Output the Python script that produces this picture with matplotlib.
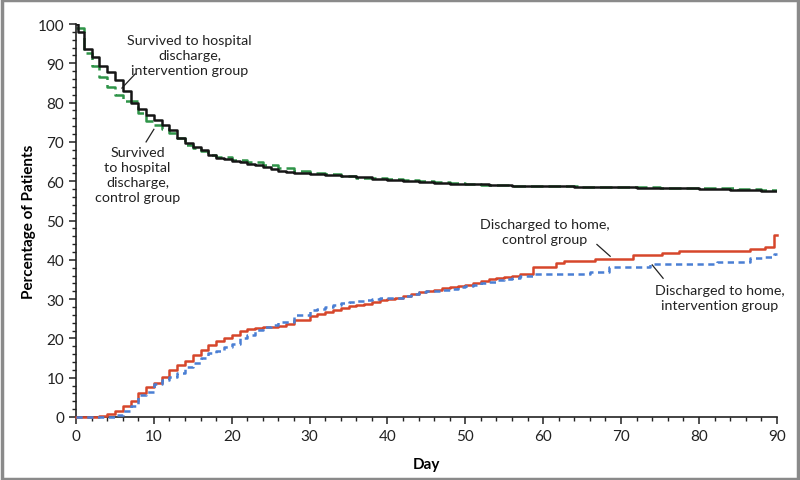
import matplotlib
matplotlib.use("Agg")
from matplotlib import pyplot as plt
from matplotlib.patches import Rectangle
from matplotlib.ticker import MultipleLocator

# survived to hospital discharge, intervention group
surv_int_day = [0, 0.3, 1, 2, 3, 4, 5, 6, 7, 8, 9, 10, 11, 12, 13, 14, 15, 16, 17, 18, 19, 20,
                21, 22, 23, 24, 25, 26, 27, 28, 30, 32, 34, 36, 38, 40, 42, 44, 46, 48, 50,
                53, 56, 60, 64, 68, 72, 76, 80, 84, 88, 90]
surv_int_pct = [100, 98, 93.6, 91.7, 89.2, 87.7, 85.8, 83.0, 79.8, 78.5, 76.8, 75.6, 74.3, 73.0,
                70.9, 69.6, 68.8, 67.9, 66.7, 66.0, 65.6, 65.2, 64.8, 64.4, 64.0, 63.5, 63.1,
                62.7, 62.4, 62.1, 61.9, 61.6, 61.3, 61.0, 60.6, 60.3, 60.0, 59.7, 59.5, 59.3,
                59.2, 59.0, 58.9, 58.8, 58.6, 58.4, 58.3, 58.2, 58.0, 57.8, 57.6, 57.5]

# survived to hospital discharge, control group
surv_ctl_day = [0, 1, 2, 3, 4, 5, 6, 8, 9, 10, 11, 12, 13, 14, 15, 16, 17, 18, 20, 22, 24, 26,
                28, 30, 32, 34, 36, 38, 40, 42, 44, 46, 48, 50, 52, 56, 60, 65, 70, 75, 80,
                85, 88, 90]
surv_ctl_pct = [99, 92.5, 89.2, 86.4, 84.0, 82.0, 80.3, 77.3, 75.2, 74.3, 73.4, 72.2, 70.9,
                69.2, 68.4, 67.6, 66.7, 66.2, 65.4, 64.8, 64.2, 63.3, 62.7, 62.0, 61.8, 61.3,
                60.9, 60.7, 60.5, 60.2, 60.0, 59.8, 59.6, 59.2, 59.0, 58.9, 58.7, 58.6, 58.5,
                58.3, 58.2, 58.0, 57.8, 57.6]

# discharged to home, control group
home_ctl_day = [0, 3, 4, 5, 6, 7, 8, 9, 10, 11, 12, 13, 14, 15, 16, 17, 18, 19, 20, 21, 22, 23,
                24, 26, 27, 28, 30, 31, 32, 33, 34, 35, 36, 37, 38, 39, 40, 41, 42, 43, 44,
                45, 46, 47, 48, 49, 50, 51, 52, 53, 54, 55, 56, 57, 58.7, 61.7, 62.7,
                66.6, 71.5, 75.2, 77.5, 86.5, 88.5, 89.6, 90]
home_ctl_pct = [0, 0.3, 0.7, 1.5, 2.8, 4.1, 6.0, 7.7, 8.7, 10.3, 12.0, 13.2, 14.2, 15.8, 17.0,
                18.3, 19.3, 20.0, 20.9, 22.0, 22.4, 22.7, 23.0, 23.2, 23.7, 24.6, 25.7, 26.2,
                26.8, 27.3, 27.8, 28.2, 28.5, 28.8, 29.3, 29.8, 30.1, 30.4, 30.8, 31.3, 31.7,
                32.0, 32.3, 32.7, 33.1, 33.4, 33.7, 34.1, 34.5, 35.0, 35.4, 35.7, 36.0, 36.3,
                38.1, 39.3, 39.8, 40.3, 41.2, 41.8, 42.3, 42.7, 43.3, 46.3, 46.3]

# discharged to home, intervention group
home_int_day = [0, 5, 6, 7, 8, 9, 10, 11, 12, 13, 14, 15, 16, 17, 18, 19, 20, 21, 22, 23, 24,
                25, 26, 28, 30, 31, 32, 33, 34, 35, 36, 37, 38, 39, 40, 42, 43, 44, 45, 47,
                48, 49, 50, 51, 52, 53, 54, 55, 56, 57, 58.7, 62, 66, 68.5, 73.7,
                82.3, 86.5, 88.5, 89.6, 90]
home_int_pct = [0, 0.5, 1.5, 2.9, 5.6, 6.4, 8.4, 9.4, 10.3, 11.3, 12.6, 13.7, 14.9, 16.2, 16.8,
                17.7, 18.7, 20.0, 20.9, 22.1, 22.8, 23.4, 24.2, 25.9, 27.2, 27.5, 28.0, 28.5,
                28.9, 29.3, 29.6, 29.8, 30.0, 30.2, 30.4, 30.8, 31.3, 31.7, 32.0, 32.3, 32.6,
                33.0, 33.3, 33.6, 34.0, 34.4, 34.8, 35.1, 35.4, 35.8, 36.3, 36.5, 36.8, 38.2,
                38.9, 39.5, 40.4, 40.6, 41.6, 41.6]

plt.rcParams["font.family"] = ["Lato", "DejaVu Sans"]

fig = plt.figure(figsize=(8, 4.81), dpi=100)
ax = fig.add_axes([0.095, 0.131, 0.876, 0.817])

ax.step(surv_ctl_day, surv_ctl_pct, where="post", color="#2e9448", lw=1.8,
        dashes=(5, 2))
ax.step(surv_int_day, surv_int_pct, where="post", color="#151515", lw=1.8)
ax.step(home_int_day, home_int_pct, where="post", color="#4a7fd4", lw=1.8,
        dashes=(2.5, 1.8), clip_on=False, zorder=4)
ax.step(home_ctl_day, home_ctl_pct, where="post", color="#d6462b", lw=1.8,
        clip_on=False, zorder=3)

ax.set_xlim(0, 90)
ax.set_ylim(0, 100)
ax.xaxis.set_major_locator(MultipleLocator(10))
ax.xaxis.set_minor_locator(MultipleLocator(2))
ax.yaxis.set_major_locator(MultipleLocator(10))
ax.yaxis.set_minor_locator(MultipleLocator(2))
ax.tick_params(which="major", direction="out", length=5, width=1.1, labelsize=11,
               colors="#222222")
ax.tick_params(which="minor", direction="out", length=3, width=1.0, colors="#222222")
for side in ["top", "right"]:
    ax.spines[side].set_visible(False)
for side in ["left", "bottom"]:
    ax.spines[side].set_linewidth(1.2)
    ax.spines[side].set_color("#222222")

ax.set_xlabel("Day", fontsize=11, fontweight="bold", labelpad=10)
ax.set_ylabel("Percentage of Patients", fontsize=11, fontweight="bold", labelpad=1)

txt = dict(fontsize=10.3, ha="center", va="center", color="#222222", linespacing=1.3)
ax.text(14.6, 92.0, "Survived to hospital\ndischarge,\nintervention group", **txt)
ax.text(7.9, 61.8, "Survived\nto hospital\ndischarge,\ncontrol group", **txt)
ax.text(60.2, 47.2, "Discharged to home,\ncontrol group", **txt)
ax.text(82.7, 30.5, "Discharged to home,\nintervention group", **txt)

lk = dict(color="#222222", lw=0.9)
ax.plot([7.6, 5.9], [87.3, 83.7], **lk)
ax.plot([9.0, 10.0], [70.0, 73.2], **lk)
ax.plot([66.9, 68.6], [43.9, 40.9], **lk)
ax.plot([74.0, 75.4], [38.7, 35.3], **lk)

fig.patches.append(Rectangle((0.002, 0.003), 0.996, 0.994, transform=fig.transFigure,
                             fill=False, edgecolor="#8a8a8a", lw=2.5))

fig.savefig("out.png", dpi=100)
